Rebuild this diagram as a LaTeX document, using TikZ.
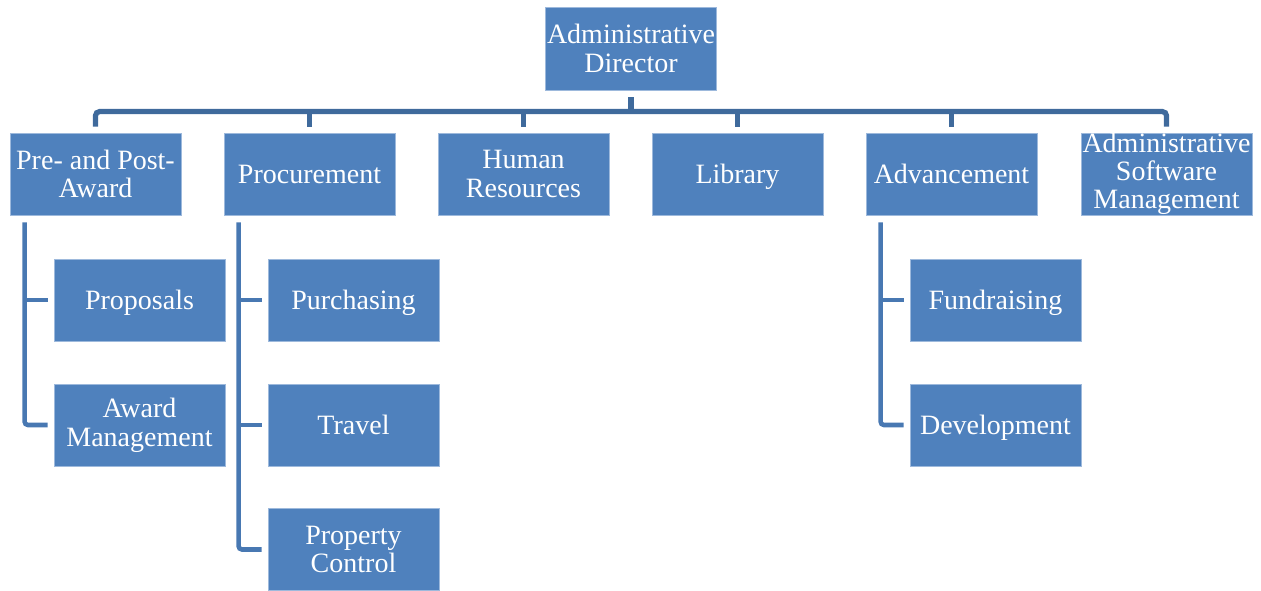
\documentclass[tikz,border=0pt]{standalone}
\usepackage{fontspec}
\setmainfont{Liberation Serif}
\definecolor{boxblue}{HTML}{4F81BD}
\definecolor{boxedge}{HTML}{9DB9DC}
\definecolor{busblue}{HTML}{3F6A9C}
\definecolor{trunkblue}{HTML}{4878B2}
\tikzset{
  unit/.style={draw=boxedge, line width=0.6pt, fill=boxblue, text=white,
    minimum width=128.25pt, minimum height=61.5pt, inner sep=1pt, align=center,
    font=\fontsize{21}{21.5}\selectfont},
  oneline/.style={unit, text height=16pt, text depth=1.5pt},
  bus/.style={draw=busblue, line width=3.9pt, rounded corners=3pt},
  trunk/.style={draw=trunkblue, line width=3.4pt, rounded corners=2.5pt}
}
\begin{document}
\begin{tikzpicture}[x=0.75pt, y=-0.75pt]
  \useasboundingbox (0,0) rectangle (1261,591);
  % director and the six units under it
  \node[unit, minimum height=62.25pt] (dir) at (631,48.5) {Administrative\\Director};
  \node[unit]    (award) at (95.5,174)  {Pre- and Post-\\Award};
  \node[oneline] (proc)  at (309.5,174) {Procurement};
  \node[unit]    (hr)    at (523.5,174) {Human\\Resources};
  \node[oneline] (lib)   at (737.5,174) {Library};
  \node[oneline] (adv)   at (951.5,174) {Advancement};
  \node[unit, inner ysep=0pt, font=\fontsize{21}{21}\selectfont]
                 (asm)   at (1166.5,174) {Administrative\\Software\\Management};
  % second level
  \node[oneline] (prop)  at (139.5,300) {Proposals};
  \node[unit]    (amgt)  at (139.5,425) {Award\\Management};
  \node[oneline] (purch) at (353.5,300) {Purchasing};
  \node[oneline] (trav)  at (353.5,425) {Travel};
  \node[unit]    (pctl)  at (353.5,549.5) {Property\\Control};
  \node[oneline] (fund)  at (995.5,300) {Fundraising};
  \node[oneline] (dev)   at (995.5,425) {Development};
  % bus under the director
  \draw[bus] ([yshift=4.5pt]award.north) -- ++(0,-15) -| ([yshift=4.5pt]award.north -| asm.north);
  \draw[bus] ([yshift=-5pt]dir.south) -- ++(0,16);
  \foreach \u in {proc,hr,lib,adv}
    \draw[bus] ([yshift=4.5pt]\u.north) -- ++(0,-16);
  % trunks down the left side of three units
  \draw[trunk] ([shift={(15,7)}]award.south west) |- ([xshift=-4.5pt]amgt.west);
  \draw[trunk] ([xshift=-4.5pt]prop.west) -- ++(-23,0);
  \draw[trunk] ([shift={(15,7)}]proc.south west) |- ([xshift=-4.5pt]pctl.west);
  \foreach \c in {purch,trav}
    \draw[trunk] ([xshift=-4.5pt]\c.west) -- ++(-23,0);
  \draw[trunk] ([shift={(15,7)}]adv.south west) |- ([xshift=-4.5pt]dev.west);
  \draw[trunk] ([xshift=-4.5pt]fund.west) -- ++(-23,0);
\end{tikzpicture}
\end{document}
